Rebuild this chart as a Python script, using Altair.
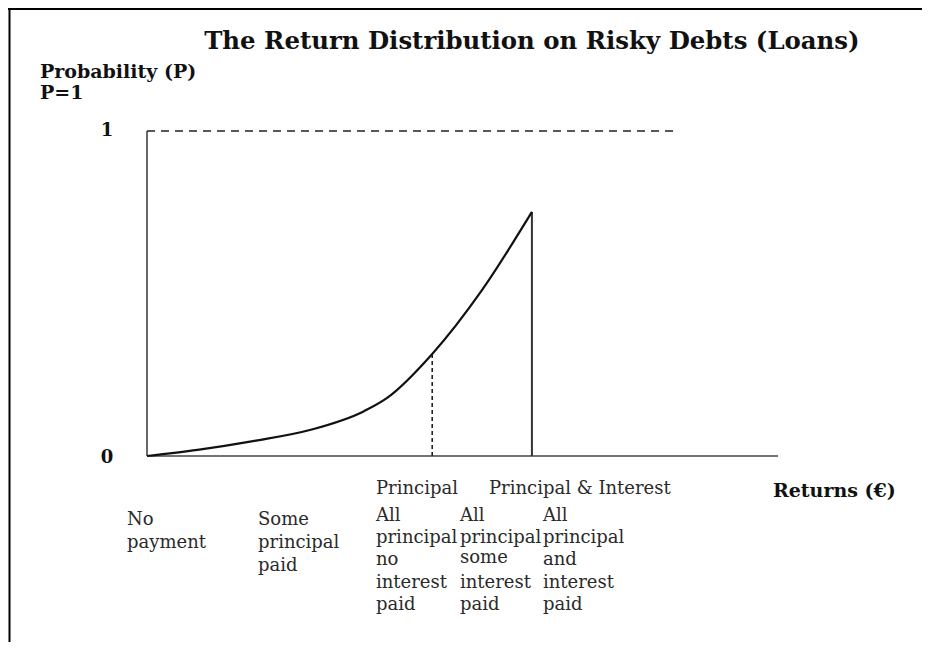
import altair as alt
import pandas as pd

# ---------------- data ----------------
# returns axis: 0 = origin, 100 = end of the drawn axis; probability 0..1
curve_x = [0, 8, 16.8, 25.8, 34.4, 38.0, 45.2, 53.0, 61.0]
curve_p = [0, 0.019, 0.046, 0.08, 0.138, 0.178, 0.314, 0.508, 0.751]

principal_x = 45.2      # all principal repaid (dashed drop line)
principal_p = 0.314
full_x = 61.0           # principal & interest (solid drop line)
full_p = 0.751
p_one = 1.0
dash_end = 83.7
axis_end = 100

title_text = "The Return Distribution on Risky Debts (Loans)"
ylabel_lines = ["Probability (P)", "P=1"]
tick_labels = ["1", "0"]
tick_values = [1.0, 0.0]
upper_labels = ["Principal", "Principal & Interest"]
xlabel_text = "Returns (€)"
outcome_columns = [
    ["No", "payment"],
    ["Some", "principal", "paid"],
    ["All", "principal", "no", "interest", "paid"],
    ["All", "principal", "some", "interest", "paid"],
    ["All", "principal", "and", "interest", "paid"],
]

# ---------------- layout (in data units) ----------------
XD = [-22.03, 122.82]
YD = [-0.5723, 1.3785]
W, H = 914, 634

xs = alt.Scale(domain=XD, nice=False, zero=False)
ys = alt.Scale(domain=YD, nice=False, zero=False)

def X(f="x"):
    return alt.X(f"{f}:Q", scale=xs, axis=None)

def Y(f="y"):
    return alt.Y(f"{f}:Q", scale=ys, axis=None)

curve_df = pd.DataFrame({"x": curve_x, "y": curve_p})
curve = alt.Chart(curve_df).mark_line(color="#111", strokeWidth=2.2, interpolate="monotone").encode(x=X(), y=Y())

axes_df = pd.DataFrame({"x": [0, 0], "y": [0, 0], "x2": [0, axis_end], "y2": [p_one, 0]})
axes = alt.Chart(axes_df).mark_rule(color="#444", strokeWidth=1.6).encode(
    x=X(), y=Y(), x2="x2:Q", y2="y2:Q")

dash_df = pd.DataFrame({"x": [0], "y": [p_one], "x2": [dash_end], "y2": [p_one]})
dash = alt.Chart(dash_df).mark_rule(color="#222", strokeWidth=1.6, strokeDash=[8, 6]).encode(
    x=X(), y=Y(), x2="x2:Q", y2="y2:Q")

drop1_df = pd.DataFrame({"x": [principal_x], "y": [0], "y2": [principal_p]})
drop1 = alt.Chart(drop1_df).mark_rule(color="#222", strokeWidth=1.6, strokeDash=[4, 3]).encode(
    x=X(), y=Y(), y2="y2:Q")

drop2_df = pd.DataFrame({"x": [full_x], "y": [0], "y2": [full_p]})
drop2 = alt.Chart(drop2_df).mark_rule(color="#333", strokeWidth=2).encode(
    x=X(), y=Y(), y2="y2:Q")

BOLD_FONT = "DejaVu Serif"
REG_FONT = "DejaVu Serif"

title_df = pd.DataFrame({"x": [61.0], "y": [1.274], "t": [title_text]})
title = alt.Chart(title_df).mark_text(font=BOLD_FONT, fontWeight="bold", fontSize=24.4, align="center",
                                      baseline="middle", color="#111").encode(x=X(), y=Y(), text="t:N")

bold_df = pd.DataFrame({
    "x": [-16.96, -16.96, 99.2],
    "y": [1.1815, 1.117, -0.108],
    "t": ylabel_lines + [xlabel_text],
})
bold = alt.Chart(bold_df).mark_text(font=BOLD_FONT, fontWeight="bold", fontSize=19, align="left",
                                    baseline="middle", color="#111").encode(x=X(), y=Y(), text="t:N")

tick_df = pd.DataFrame({"x": [-6.34, -6.34], "y": [tick_values[0], tick_values[1] - 0.006], "t": tick_labels})
ticks = alt.Chart(tick_df).mark_text(font=BOLD_FONT, fontWeight="bold", fontSize=18, align="center",
                                     baseline="middle", color="#111").encode(x=X(), y=Y(), text="t:N")

col_x = [-3.17, 17.59, 36.29, 49.6, 62.76]
row_y = [[-0.197, -0.268], [-0.197, -0.268, -0.338],
         [-0.185, -0.252, -0.320, -0.391, -0.459],
         [-0.185, -0.252, -0.314, -0.391, -0.459],
         [-0.185, -0.252, -0.320, -0.391, -0.459]]
rows = []
for cx, ry, words in zip(col_x, row_y, outcome_columns):
    for yy, w in zip(ry, words):
        rows.append({"x": cx, "y": yy, "t": w})
rows.append({"x": 36.29, "y": -0.1015, "t": upper_labels[0]})
rows.append({"x": 54.2, "y": -0.1015, "t": upper_labels[1]})
reg_df = pd.DataFrame(rows)
reg = alt.Chart(reg_df).mark_text(font=REG_FONT, fontSize=18, align="left", baseline="middle",
                                  color="#2a2a2a").encode(x=X(), y=Y(), text="t:N")

frame_top = alt.Chart(pd.DataFrame({"a": [0]})).mark_rule(color="#000", strokeWidth=2).encode(
    x=alt.value(0), x2=alt.value(W), y=alt.value(1))
frame_left = alt.Chart(pd.DataFrame({"a": [0]})).mark_rule(color="#000", strokeWidth=2).encode(
    x=alt.value(1.5), y=alt.value(0), y2=alt.value(H))

chart = alt.layer(frame_top, frame_left, axes, dash, drop1, drop2, curve, title, bold, ticks, reg).properties(
    width=W, height=H, autosize=alt.AutoSizeParams(type="none"), padding=0, background="white"
).configure_view(stroke=None)

chart.save("out.html", embed_options={"renderer": "svg", "actions": False})
